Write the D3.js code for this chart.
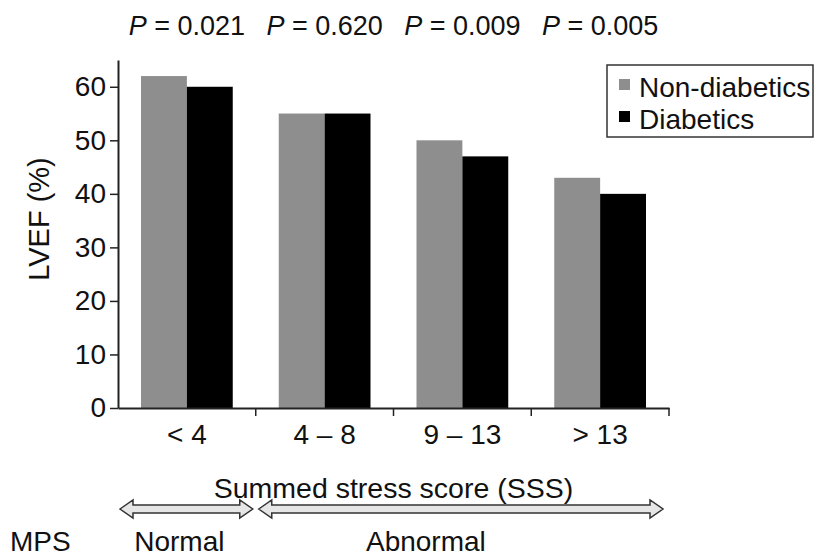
<!DOCTYPE html>
<html>
<head>
<meta charset="utf-8">
<script src="https://cdn.jsdelivr.net/npm/d3@7"></script>
<style>
  body { margin: 0; background: #fff; }
  text { font-family: "Liberation Sans", Arial, Helvetica, sans-serif; fill: #111; }
</style>
</head>
<body>
<div id="chart"></div>
<script>
// data
const categories = ["< 4", "4 \u2013 8", "9 \u2013 13", "> 13"];
const seriesNames = ["Non-diabetics", "Diabetics"];
const nonDiabetics = [62, 55, 50, 43];
const diabetics = [60, 55, 47, 40];
const pValues = ["0.021", "0.620", "0.009", "0.005"];
const yTicks = [0, 10, 20, 30, 40, 50, 60];

const W = 816, H = 559;
const margin = { top: 60, right: 147, bottom: 151, left: 118 };
const width = W - margin.left - margin.right,
    height = H - margin.top - margin.bottom;

const colors = { "Non-diabetics": "#8e8e8e", "Diabetics": "#000" };

const table = categories.map((c, i) => ({
    cat: c,
    values: [
        { key: seriesNames[0], value: nonDiabetics[i] },
        { key: seriesNames[1], value: diabetics[i] }
    ]
}));

const svg = d3.select("#chart").append("svg")
    .attr("width", W)
    .attr("height", H);

const g = svg.append("g")
    .attr("transform", "translate(" + margin.left + "," + margin.top + ")");

const x0 = d3.scaleBand()
    .domain(categories)
    .range([0, width])
    .paddingInner(0)
    .paddingOuter(0);

const x1 = d3.scaleBand()
    .domain(seriesNames)
    .range([23, x0.bandwidth() - 23])
    .padding(0);

const y = d3.scaleLinear()
    .domain([0, 65])
    .range([height, 0]);

// bars
const groups = g.selectAll(".grp")
    .data(table)
    .enter().append("g")
    .attr("class", "grp")
    .attr("transform", d => "translate(" + x0(d.cat) + ",0)");

groups.selectAll("rect")
    .data(d => d.values)
    .enter().append("rect")
    .attr("x", d => x1(d.key))
    .attr("width", x1.bandwidth())
    .attr("y", d => y(d.value))
    .attr("height", d => height - y(d.value))
    .attr("fill", d => colors[d.key]);

// y axis
const yAxis = g.append("g")
    .call(d3.axisLeft(y).tickValues(yTicks).tickSize(8).tickSizeOuter(0).tickPadding(4));
yAxis.select(".domain").attr("stroke", "#222").attr("stroke-width", 2);
yAxis.selectAll(".tick line").attr("stroke", "#222").attr("stroke-width", 1.5);
yAxis.selectAll("text").style("font-size", "28px").attr("fill", "#111");

// x axis: ticks at band boundaries
const xAxis = g.append("g")
    .attr("transform", "translate(0," + height + ")")
    .call(d3.axisBottom(x0).tickSize(0).tickPadding(16));
xAxis.select(".domain").attr("stroke", "#222").attr("stroke-width", 2);
xAxis.selectAll("text").style("font-size", "28px").attr("fill", "#111");

g.selectAll(".btick")
    .data(categories)
    .enter().append("line")
    .attr("x1", d => x0(d) + x0.bandwidth())
    .attr("x2", d => x0(d) + x0.bandwidth())
    .attr("y1", height)
    .attr("y2", height + 8)
    .attr("stroke", "#222")
    .attr("stroke-width", 1.5);

// p values over each group
g.selectAll(".pval")
    .data(pValues)
    .enter().append("text")
    .attr("class", "pval")
    .attr("x", (d, i) => x0(categories[i]) + x0.bandwidth() / 2)
    .attr("y", -25)
    .attr("text-anchor", "middle")
    .style("font-size", "27px")
    .each(function (d) {
        const t = d3.select(this);
        t.append("tspan").style("font-style", "italic").text("P");
        t.append("tspan").text(" = " + d);
    });

// y label
g.append("text")
    .attr("transform", "translate(-69," + (height / 2 - 15) + ") rotate(-90)")
    .attr("text-anchor", "middle")
    .style("font-size", "29px")
    .text("LVEF (%)");

// x label
g.append("text")
    .attr("x", width / 2)
    .attr("y", height + 90)
    .attr("text-anchor", "middle")
    .style("font-size", "28.5px")
    .text("Summed stress score (SSS)");

// hollow double arrows
function dblArrow(xa, xb, yc) {
    const h = 4, hh = 9, hl = 13;
    return "M" + xa + "," + yc +
        " L" + (xa + hl) + "," + (yc - hh) +
        " L" + (xa + hl) + "," + (yc - h) +
        " L" + (xb - hl) + "," + (yc - h) +
        " L" + (xb - hl) + "," + (yc - hh) +
        " L" + xb + "," + yc +
        " L" + (xb - hl) + "," + (yc + hh) +
        " L" + (xb - hl) + "," + (yc + h) +
        " L" + (xa + hl) + "," + (yc + h) +
        " L" + (xa + hl) + "," + (yc + hh) + " Z";
}
const arrowY = height + 101;
const spans = [
    { label: "Normal", from: x0(categories[0]) + 2, to: x0(categories[1]) - 3, dx: -7 },
    { label: "Abnormal", from: x0(categories[1]) + 3, to: x0(categories[3]) + x0.bandwidth() - 6, dx: -35 }
];
g.selectAll(".arr")
    .data(spans)
    .enter().append("path")
    .attr("d", d => dblArrow(d.from, d.to, arrowY))
    .attr("fill", "#e6e6e6")
    .attr("stroke", "#333")
    .attr("stroke-width", 1.5);

g.selectAll(".spanlbl")
    .data(spans)
    .enter().append("text")
    .attr("x", d => (d.from + d.to) / 2 + d.dx)
    .attr("y", height + 143)
    .attr("text-anchor", "middle")
    .style("font-size", "28px")
    .text(d => d.label);

svg.append("text")
    .attr("x", 10)
    .attr("y", H - 8)
    .style("font-size", "28px")
    .text("MPS");

// legend
const legend = svg.append("g")
    .attr("transform", "translate(607,65)");
legend.append("rect")
    .attr("width", 206)
    .attr("height", 72)
    .attr("fill", "#fff")
    .attr("stroke", "#333")
    .attr("stroke-width", 1.5);
const li = legend.selectAll(".li")
    .data(seriesNames)
    .enter().append("g")
    .attr("transform", (d, i) => "translate(12," + (14 + i * 32) + ")");
li.append("rect")
    .attr("width", 11)
    .attr("height", 11)
    .attr("fill", d => colors[d]);
li.append("text")
    .attr("x", 20)
    .attr("y", 18)
    .style("font-size", "28px")
    .text(d => d);
</script>
</body>
</html>
